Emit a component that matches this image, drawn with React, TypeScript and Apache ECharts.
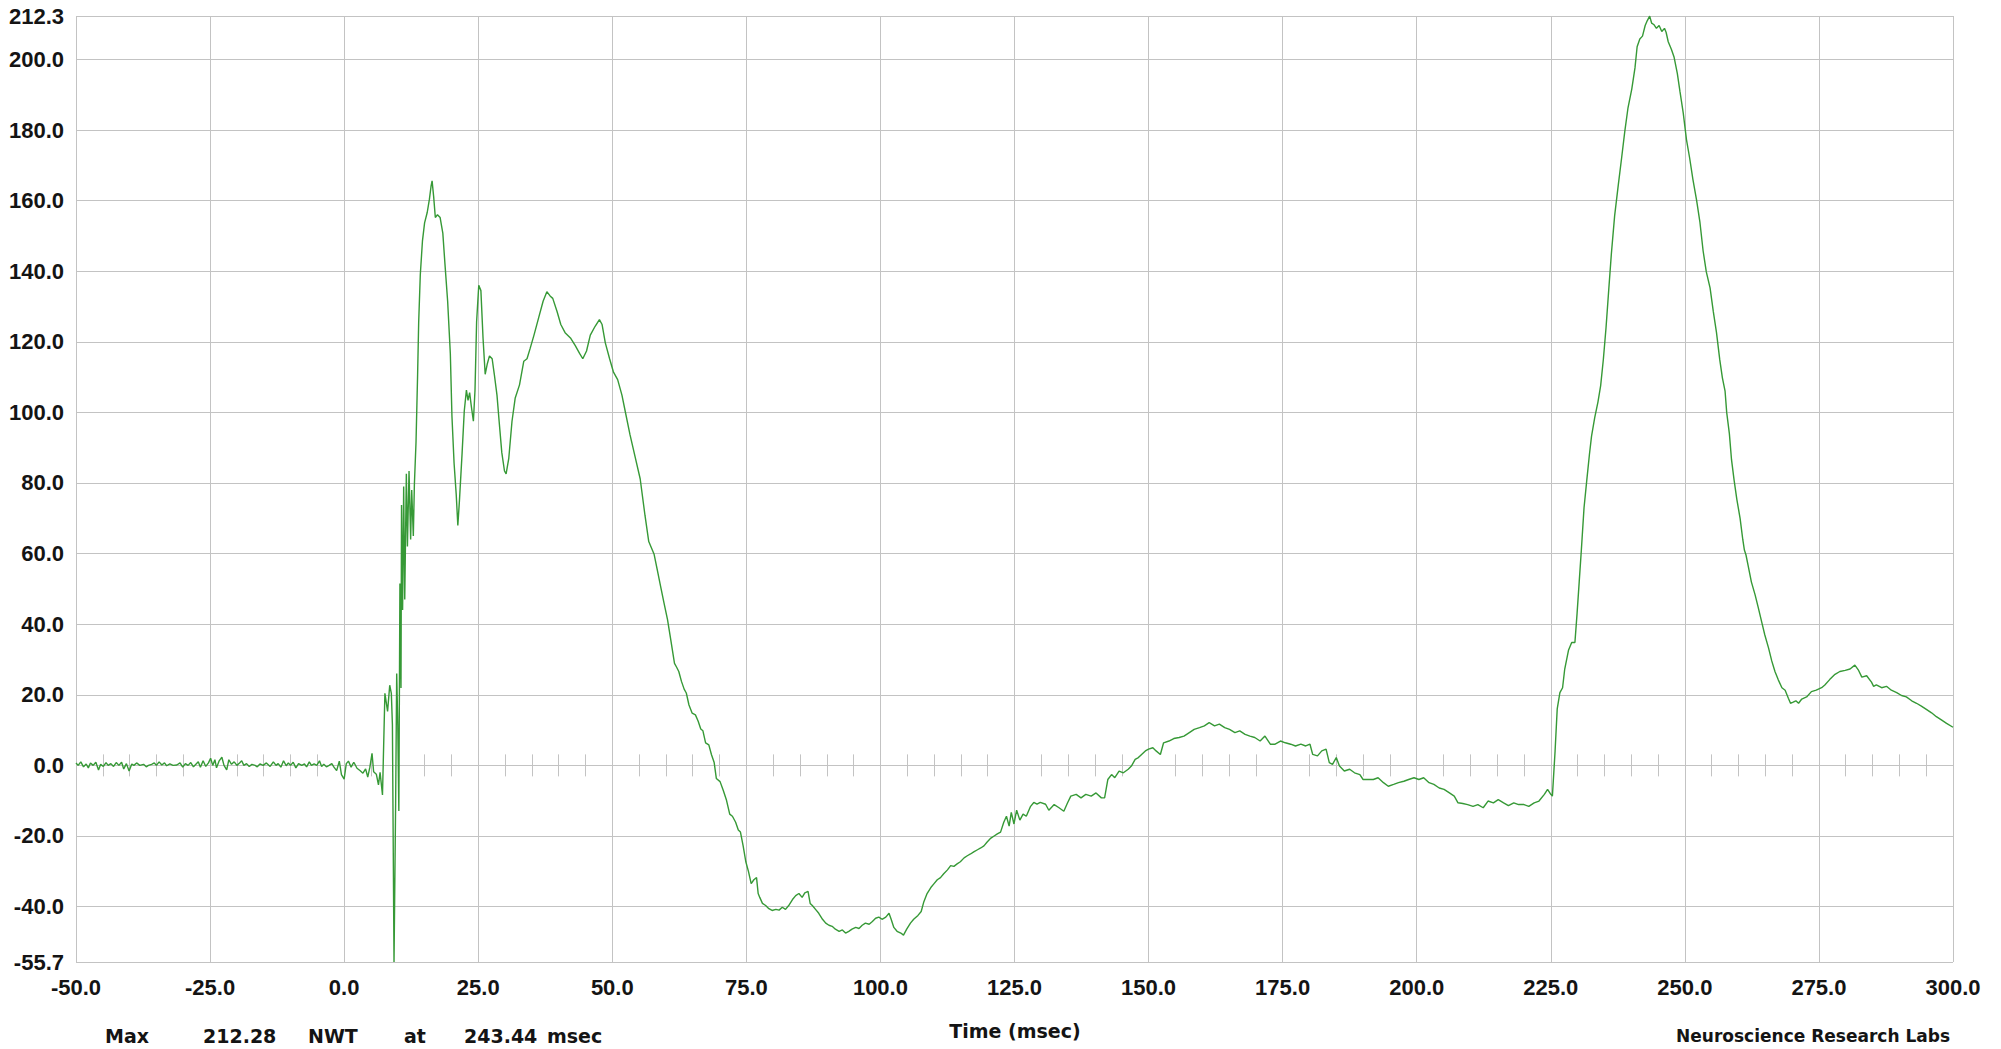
import React, { useEffect, useRef } from "react";
import * as echarts from "echarts";

// ---------- DATA (time in msec, amplitude in NWT) ----------
const baselineSeg: [number, number][] = [
  [-50.0, 0.7], [-49.6, 0.0], [-49.1, 1.0], [-48.6, -0.4], [-48.1, 0.4], [-47.7, -0.7], [-47.3, 0.7], [-46.8, 0.0],
  [-46.3, 0.9], [-45.8, -1.3], [-45.4, 0.3], [-44.9, -0.3], [-44.4, 0.8], [-44.0, 0.0], [-43.5, 0.5], [-43.0, -0.3],
  [-42.5, 0.8], [-42.0, 0.0], [-41.5, 0.9], [-41.1, -1.0], [-40.6, 0.5], [-40.1, -1.6], [-39.6, 0.4], [-39.2, 0.0],
  [-38.7, 0.7], [-38.1, 0.0], [-37.4, 0.3], [-36.9, -0.4], [-36.5, 0.0], [-35.9, 0.3], [-35.4, 0.7], [-35.0, 0.0],
  [-34.5, 1.0], [-34.0, 0.1], [-33.5, 0.7], [-33.1, -0.1], [-32.5, 0.4], [-31.9, 0.0], [-31.2, 0.1], [-30.6, 0.7],
  [-30.1, -0.5], [-29.6, 0.5], [-29.1, 0.0], [-28.6, 0.8], [-28.1, -0.4], [-27.6, 0.4], [-27.2, 1.0], [-26.8, -0.5],
  [-26.3, 1.3], [-25.8, -0.3], [-25.3, 0.7], [-24.9, 2.0], [-24.5, 0.0], [-24.1, 1.6], [-23.8, -0.7], [-23.3, 1.3],
  [-22.8, 2.3], [-22.4, 0.0], [-21.9, -1.3], [-21.5, 1.6], [-21.0, 0.3], [-20.5, 1.0], [-20.0, 0.0], [-19.5, 0.7],
  [-19.1, 1.3], [-18.7, 0.0], [-18.2, 0.5], [-17.7, -0.3], [-17.2, 0.3], [-16.6, 0.0], [-16.2, -0.4], [-15.7, 0.4],
  [-15.1, 0.0], [-14.5, 0.7], [-13.8, -0.3], [-13.2, 1.0], [-12.7, 0.0], [-12.3, 0.5], [-11.8, -0.5], [-11.3, 1.3],
  [-10.8, -0.1], [-10.4, 0.7], [-10.0, 0.0], [-9.5, 0.9], [-9.0, -0.7], [-8.5, 0.5], [-7.9, 0.0], [-7.4, 0.4],
  [-7.0, -0.4], [-6.5, 1.0], [-6.1, 0.0], [-5.6, 0.4], [-5.1, 0.0], [-4.6, 1.3], [-4.2, -0.3], [-3.8, 0.3],
  [-3.3, -0.4], [-2.8, 0.0], [-2.3, 0.5], [-1.9, -0.5], [-1.4, -1.5], [-0.9, 1.2], [-0.5, -2.6],
];

const onsetSeg: [number, number][] = [
  [0.0, -3.9], [0.4, 0.5], [0.8, 1.2], [1.3, -0.5], [1.8, 0.9], [2.4, -0.8], [3.0, -1.5], [3.5, -2.2],
  [4.0, -1.0], [4.4, -3.3], [4.8, -0.5], [5.2, 3.4], [5.5, -1.8], [6.0, -2.5], [6.4, -5.5], [6.7, -2.0],
  [7.15, -8.4], [7.6, 20.4], [8.1, 15.3], [8.5, 22.7], [8.8, 20.4], [9.0, 11.6], [9.3, -55.7], [9.6, -10.7],
  [9.8, 26], [10.0, 11.6], [10.2, -12.9], [10.4, 51.5], [10.6, 21.9], [10.7, 73.8], [10.9, 44], [11.1, 79],
  [11.3, 47], [11.6, 82.6], [11.8, 62], [12.1, 83.4], [12.4, 64], [12.6, 78], [12.9, 65], [13.1, 79.7], [13.4, 91.5],
];

const earlySeg: [number, number][] = [
  [13.7, 110.8], [13.9, 125.6], [14.2, 139], [14.6, 148.5], [15.0, 153.7], [15.5, 156.7], [15.9, 160.4], [16.2, 164],
  [16.4, 165.6], [16.7, 161], [17.0, 155.2], [17.4, 156], [17.9, 155.2], [18.4, 150.8], [18.8, 142], [19.3, 131.5],
  [19.8, 116.7], [20.1, 99], [20.5, 85.6], [20.9, 76.7], [21.2, 68], [21.5, 75], [22.0, 88.6], [22.4, 100.4],
  [22.8, 106.3], [23.1, 103.4], [23.4, 105.6], [23.7, 101.9], [24.1, 97.5], [24.4, 106.3], [24.7, 125.6], [25.1, 136],
  [25.5, 134.5], [25.9, 121], [26.3, 110.8], [26.7, 113.8], [27.1, 116], [27.6, 115.2], [28.0, 110.8], [28.5, 104.9],
  [28.9, 97.5], [29.4, 88.6], [29.9, 83.4], [30.2, 82.6], [30.7, 87], [31.3, 97.5], [31.9, 104.1], [32.7, 107.8],
  [33.5, 114.5], [34.1, 115.2], [34.7, 118.2], [35.4, 121.9], [36.3, 127], [37.1, 131.5], [37.8, 134.2], [38.4, 133],
  [38.9, 132.3], [39.7, 128.6], [40.4, 124.9], [41.2, 122.6], [42.2, 121.1], [43.1, 118.9], [43.9, 116.7], [44.5, 115.2],
  [45.2, 117.4], [45.9, 121.9], [46.8, 124.4], [47.6, 126.3], [48.1, 124.9], [48.7, 119.7], [49.5, 115.2], [50.2, 111.5],
  [51.0, 109.3], [51.8, 104.9], [52.4, 100.4], [53.3, 93.7], [54.3, 87.1], [55.2, 81.2], [56.1, 70.8], [56.8, 63.4],
];

const troughSeg: [number, number][] = [
  [57.8, 59.8], [58.4, 55.3], [59.0, 50.8], [59.6, 46.3], [60.3, 41.3], [60.9, 35.6], [61.6, 28.9], [62.0, 27.8],
  [62.4, 26.6], [62.9, 23.8], [63.4, 21.6], [63.8, 20.5], [64.3, 17.1], [64.9, 14.8], [65.5, 14.3], [66.0, 12.6],
  [66.5, 10.3], [66.9, 9.8], [67.4, 6.4], [68.0, 5.8], [68.5, 3.0], [69.0, 0.8], [69.4, -3.7], [70.1, -4.6],
  [70.7, -7.1], [71.3, -9.9], [71.9, -13.8], [72.4, -14.4], [73.0, -16.1], [73.5, -18.3], [73.9, -18.9], [74.4, -22.8],
  [74.9, -27.3], [75.4, -30.1], [75.9, -33.5], [76.4, -32.4], [76.9, -31.8], [77.2, -36.3], [77.5, -37.4], [78.0, -39.1],
  [78.6, -39.7], [79.2, -40.6], [79.8, -41.1], [80.5, -40.8], [81.1, -41], [81.7, -40.2], [82.3, -40.8], [82.9, -39.7],
  [83.6, -38], [84.2, -36.9], [84.8, -36.3], [85.4, -37.4], [85.9, -36.1], [86.5, -35.7], [86.9, -39.1], [87.3, -39.7],
  [87.9, -40.8], [88.5, -41.9], [89.2, -43.6], [89.8, -44.7], [90.4, -45.3], [91.0, -45.6], [91.6, -46.4], [92.3, -47],
  [92.9, -46.6], [93.5, -47.5], [94.1, -47], [94.7, -46.4], [95.4, -45.9], [96.0, -46.2], [96.6, -45.3], [97.2, -44.7],
  [97.9, -45.0], [98.5, -44.2], [99.1, -43.3], [99.7, -43], [100.3, -43.6], [101.0, -43], [101.6, -41.9], [102.0, -43.6],
  [102.5, -45.9], [103.1, -47], [103.8, -47.5], [104.3, -48.1], [104.9, -46.4], [105.6, -44.7], [106.2, -43.6], [107.0, -42.5],
  [107.6, -41.4], [108.1, -38.6], [108.7, -36.3], [109.4, -34.6], [110.0, -33.5], [110.6, -32.4], [111.2, -31.8], [111.8, -30.7],
  [112.5, -29.6], [113.1, -28.4], [113.7, -28.6], [114.3, -27.9], [114.9, -27.3], [115.6, -26.2], [116.2, -25.6], [116.8, -25.1],
  [117.4, -24.5], [118.1, -23.9], [118.7, -23.4], [119.3, -22.8], [119.9, -21.7], [120.6, -20.6], [121.2, -20], [121.8, -19.4],
  [122.4, -18.9], [123.0, -16.1], [123.5, -14.4], [124.0, -17.2], [124.4, -13.3], [124.9, -16.6], [125.4, -12.7], [126.0, -15.5],
  [126.6, -13.8], [127.2, -14.4], [128.0, -11.6], [128.6, -10.5], [129.2, -11], [129.8, -10.5], [130.8, -11], [131.4, -12.7],
];

const lateSeg: [number, number][] = [
  [132.4, -11.1], [133.3, -12], [134.2, -13], [134.9, -10.6], [135.5, -8.7], [136.5, -8.2], [137.4, -9.2], [138.3, -8.2],
  [139.3, -8.7], [140.2, -7.8], [141.2, -9.2], [141.8, -9.2], [142.4, -4], [143.1, -2.6], [143.7, -3.5], [144.5, -1.6],
  [145.3, -2.1], [146.2, -1.1], [146.8, -0.2], [147.5, 1.7], [148.1, 2.2], [148.7, 3.1], [149.4, 4.1], [150.0, 4.6],
  [150.8, 5], [151.4, 4.1], [152.2, 3.1], [152.8, 6.4], [153.8, 6.9], [154.7, 7.6], [155.7, 7.9], [156.6, 8.3],
  [157.6, 9.3], [158.5, 10.2], [159.5, 10.7], [160.4, 11.2], [161.3, 12.1], [162.3, 11.2], [163.2, 11.7], [164.2, 10.7],
  [165.1, 10.2], [166.1, 9.3], [167.0, 9.8], [168.0, 8.8], [168.9, 8.3], [169.8, 7.9], [170.8, 6.9], [171.7, 8.3],
  [172.7, 6], [173.6, 6], [174.6, 6.9], [175.5, 6.4], [176.5, 6], [177.4, 5.5], [178.4, 6], [179.3, 5.5],
  [180.1, 6], [180.6, 3.1], [181.5, 2.7], [182.3, 4.1], [183.1, 4.6], [183.7, 0.8], [184.3, 0.3], [185.0, 2.2],
  [185.6, -0.2], [186.5, -1.6], [187.5, -1.1], [188.4, -2.1], [189.4, -2.6], [190.0, -4], [191.0, -4], [191.9, -4],
  [192.8, -3.5], [193.8, -4.9], [194.7, -5.9], [195.7, -5.4], [196.6, -4.9], [197.6, -4.5], [198.5, -4], [199.5, -3.5],
  [200.4, -4], [201.3, -3.5], [202.3, -4.9], [203.2, -5.4], [204.2, -6.4], [205.1, -6.8], [206.1, -7.8], [207.0, -8.7],
  [207.7, -10.6], [208.6, -10.8], [209.5, -11.1], [210.5, -11.6], [211.4, -11.1], [212.4, -12], [213.3, -10.1], [214.3, -10.6],
  [215.2, -9.7], [216.2, -10.6], [217.1, -11.4], [218.1, -10.6], [219.0, -11.1], [220.0, -11.1], [220.9, -11.6], [221.9, -10.6],
  [222.8, -10.1], [223.8, -8.2], [224.4, -6.8], [225.0, -8.2],
];

const peakSeg: [number, number][] = [
  [225.3, -8.7], [225.8, 4], [226.2, 16], [226.7, 20.6], [227.2, 22], [227.6, 27.3], [228.3, 32.6], [228.9, 34.8],
  [229.5, 34.8], [229.9, 43], [230.3, 52], [230.7, 61], [231.2, 73], [231.7, 80.6], [232.2, 88], [232.6, 93.3],
  [233.2, 98.6], [233.8, 103], [234.3, 107.6], [234.8, 115], [235.3, 124], [235.8, 134.6], [236.3, 145], [236.9, 155.6],
  [237.6, 164.6], [238.2, 172], [238.8, 179.6], [239.4, 186.3], [240.1, 191.6], [240.7, 197.6], [241.1, 203.6], [241.6, 205.8],
  [242.1, 206.6], [242.6, 209.6], [243.0, 211], [243.44, 212.28], [243.8, 210.3], [244.2, 209.9], [244.7, 208.8], [245.2, 209.6],
  [245.7, 207.9], [246.2, 208.8], [246.5, 207.7], [246.9, 205], [247.5, 202.8], [248.0, 200.6], [248.6, 196], [249.1, 190.8],
  [249.7, 184.8], [250.3, 177.3], [250.9, 172], [251.5, 166], [252.2, 160], [252.8, 154], [253.4, 145.8], [254.0, 139.8],
  [254.7, 135.3], [255.3, 128.6], [255.9, 122.6], [256.5, 115], [257.0, 109.8], [257.5, 106], [257.8, 100], [258.3, 94],
  [258.7, 86.6], [259.2, 80.6], [259.7, 75.3], [260.3, 70], [260.8, 64], [261.1, 61], [261.4, 59.6], [261.8, 56.6],
  [262.4, 52], [263.1, 48.3], [263.7, 44.6], [264.3, 40.8], [264.9, 37], [265.6, 33.3], [266.2, 29.6], [266.8, 26.6],
  [267.4, 24.3], [268.1, 22], [268.7, 21.3], [269.3, 19], [269.7, 17.6], [270.2, 17.9], [270.7, 18.3], [271.2, 17.6],
  [271.8, 18.8], [272.7, 19.4], [273.6, 20.9], [274.5, 21.3], [275.5, 22], [276.1, 22.8], [277.0, 24.3], [278.0, 25.8],
  [278.9, 26.6], [279.9, 26.9], [280.8, 27.3], [281.7, 28.4], [282.4, 26.9], [283.0, 25], [283.9, 25.4], [284.8, 23.6],
  [285.2, 22.4], [285.7, 22.8], [286.7, 22], [287.6, 22.4], [288.5, 21.3], [289.5, 20.6], [290.4, 19.8], [291.3, 19.4],
  [292.3, 18.3], [293.2, 17.6], [294.1, 16.8], [295.1, 15.8], [296.0, 14.9], [296.9, 13.8], [297.9, 12.8], [298.8, 11.9],
  [300.0, 10.8],
];

const yTickValues = [-55.7, -40, -20, 0, 20, 40, 60, 80, 100, 120, 140, 160, 180, 200, 212.3];
const xMin = -50;
const xMax = 300;
const xMajorStep = 25;
const xMinorStep = 5;

const summaryWords = ["Max", "212.28", "NWT", "at", "243.44", "msec"];
const xAxisTitle = "Time (msec)";
const labName = "Neuroscience Research Labs";

// ---------- STYLE ----------
const GRID_COLOR = "#c3c3c3";
const LINE_COLOR = "#369936";
const TEXT_COLOR = "#141414";
const TICK_FONT = "'Liberation Sans', Arial, sans-serif";
const TITLE_FONT = "'DejaVu Sans', sans-serif";
const summaryX = [105, 203, 308, 404, 464, 547];

export default function App() {
  const ref = useRef<HTMLDivElement>(null);

  useEffect(() => {
    document.body.style.margin = "0";
    document.body.style.overflow = "hidden";
    const chart = echarts.init(ref.current!, null, { renderer: "svg" });
    const data = [...baselineSeg, ...onsetSeg, ...earlySeg, ...troughSeg, ...lateSeg, ...peakSeg];

    const minorAxis = (inside: boolean) => ({
      type: "value",
      min: xMin,
      max: xMax,
      interval: xMinorStep,
      position: "bottom",
      axisLine: { show: false, onZero: true, onZeroAxisIndex: 0 },
      axisTick: { show: true, inside, length: 11, lineStyle: { color: GRID_COLOR, width: 1 } },
      axisLabel: { show: false },
      splitLine: { show: false },
    });

    chart.setOption({
      animation: false,
      backgroundColor: "#ffffff",
      grid: { left: 76, right: 48, top: 16, bottom: 87, containLabel: false },
      xAxis: [
        {
          type: "value",
          min: xMin,
          max: xMax,
          interval: xMajorStep,
          position: "bottom",
          axisLine: { show: false, onZero: false },
          axisTick: { show: false },
          splitLine: { show: true, lineStyle: { color: GRID_COLOR, width: 1 } },
          axisLabel: {
            formatter: (v: number) => v.toFixed(1),
            fontFamily: TICK_FONT,
            fontWeight: "bold",
            fontSize: 22,
            color: TEXT_COLOR,
            margin: 14,
            showMinLabel: true,
            showMaxLabel: true,
          },
        },
        minorAxis(true),
        minorAxis(false),
      ],
      yAxis: {
        type: "value",
        min: yTickValues[0],
        max: yTickValues[yTickValues.length - 1],
        axisLine: { show: false },
        axisTick: { show: false, customValues: yTickValues },
        splitLine: { show: true, lineStyle: { color: GRID_COLOR, width: 1 } },
        axisLabel: {
          customValues: yTickValues,
          formatter: (v: number) => v.toFixed(1),
          fontFamily: TICK_FONT,
          fontWeight: "bold",
          fontSize: 22,
          color: TEXT_COLOR,
          margin: 12,
          showMinLabel: true,
          showMaxLabel: true,
        },
      },
      series: [
        {
          type: "line",
          data,
          xAxisIndex: 0,
          yAxisIndex: 0,
          showSymbol: false,
          symbol: "none",
          lineStyle: { color: LINE_COLOR, width: 1.4 },
          clip: false,
        },
      ],
      graphic: [
        {
          type: "text",
          x: 1015,
          y: 1031,
          style: {
            text: xAxisTitle,
            fill: TEXT_COLOR,
            font: `bold 19px ${TITLE_FONT}`,
            align: "center",
            verticalAlign: "middle",
          },
        },
        ...summaryWords.map((w, i) => ({
          type: "text",
          x: summaryX[i],
          y: 1026,
          style: {
            text: w,
            fill: TEXT_COLOR,
            font: `bold 19px ${TITLE_FONT}`,
            align: "left",
            verticalAlign: "top",
          },
        })),
        {
          type: "text",
          x: 1950,
          y: 1027,
          style: {
            text: labName,
            fill: TEXT_COLOR,
            font: `bold 17px ${TITLE_FONT}`,
            align: "right",
            verticalAlign: "top",
          },
        },
      ],
    });
    return () => chart.dispose();
  }, []);

  return <div ref={ref} style={{ width: 2001, height: 1049 }} />;
}
